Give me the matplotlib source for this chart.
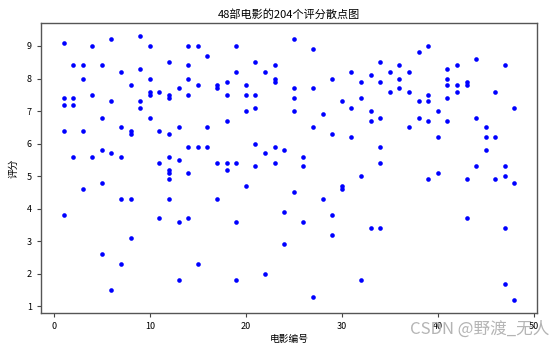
import numpy as np
import matplotlib.pyplot as plt

plt.rcParams['font.family'] = ['Noto Sans CJK SC', 'DejaVu Sans']
plt.rcParams['axes.unicode_minus'] = False

# ratings read per movie id (1..48)
ratings = {
    1: [9.1, 7.4, 7.2, 6.4, 3.8],
    2: [8.4, 7.4, 7.2, 5.6],
    3: [8.4, 8.0, 6.4, 4.6],
    4: [9.0, 7.5, 5.6],
    5: [8.4, 6.8, 5.8, 4.8, 2.6],
    6: [9.2, 7.3, 5.7, 1.5],
    7: [8.2, 6.5, 5.6, 4.3, 2.3],
    8: [7.8, 6.4, 6.3, 4.3, 3.1],
    9: [9.3, 8.3, 7.3, 7.1],
    10: [9.0, 8.0, 7.6, 7.5, 6.8],
    11: [7.6, 6.4, 5.4, 3.7],
    12: [8.5, 7.5, 7.4, 6.3, 5.6, 5.2, 5.1, 4.9, 4.3],
    13: [7.7, 6.5, 5.5, 3.6, 1.8],
    14: [9.0, 8.4, 8.0, 7.5, 5.9, 5.1, 3.7],
    15: [9.0, 7.8, 5.9, 2.3],
    16: [8.7, 6.5, 5.9],
    17: [7.8, 7.7, 5.4, 4.3],
    18: [7.9, 7.5, 6.7, 5.4, 5.2],
    19: [9.0, 8.2, 5.4, 3.6, 1.8],
    20: [7.8, 7.5, 7.0, 4.7],
    21: [8.5, 7.5, 7.1, 6.0, 5.3],
    22: [8.2, 5.7, 2.0],
    23: [8.4, 8.0, 7.9, 5.9, 5.4],
    24: [5.8, 3.9, 2.9],
    25: [9.2, 7.7, 7.4, 7.0, 4.5],
    26: [5.6, 5.3, 3.6],
    27: [8.9, 7.7, 6.5, 1.3],
    28: [6.9, 4.3],
    29: [8.0, 6.3, 3.8, 3.2],
    30: [7.3, 4.7, 4.6],
    31: [8.2, 7.1, 6.2],
    32: [7.9, 7.4, 5.0, 1.8],
    33: [8.1, 7.0, 6.7, 3.4],
    34: [8.5, 7.9, 6.8, 5.9, 5.4, 3.4],
    35: [8.2, 7.6],
    36: [8.4, 8.0, 7.7],
    37: [8.2, 7.6, 6.5],
    38: [8.8, 7.3, 6.8],
    39: [9.0, 7.5, 7.3, 6.7, 4.9],
    40: [7.0, 6.2, 5.1],
    41: [8.3, 8.0, 7.8, 7.4, 6.7],
    42: [8.4, 7.8, 7.6],
    43: [7.9, 7.8, 4.9, 3.7],
    44: [8.6, 6.8, 5.3],
    45: [6.5, 6.2, 5.8],
    46: [7.6, 6.2, 4.9],
    47: [8.4, 5.3, 5.0, 3.4, 1.7],
    48: [7.1, 4.8, 1.2],
}

movie_id = []
score = []
for k, v in ratings.items():
    movie_id += [k] * len(v)
    score += v

fig = plt.figure(figsize=(5.59, 3.45), dpi=100)
ax = fig.add_axes([0.0733, 0.0928, 0.8874, 0.8405])
ax.scatter(movie_id, score, s=11, c='blue', linewidths=0)

ax.set_title('48部电影的204个评分散点图', fontsize=8, pad=4)
ax.set_xlabel('电影编号', fontsize=7, labelpad=2)
ax.set_ylabel('评分', fontsize=7, labelpad=6)
ax.set_xticks([0, 10, 20, 30, 40, 50])
ax.set_yticks(range(1, 10))
ax.tick_params(labelsize=6.5, length=3, width=0.8, color='#444444')
for sp in ax.spines.values():
    sp.set_color('#555555')
    sp.set_linewidth(1.0)

# watermark as in the screenshot
fig.text(0.982, 0.022, 'CSDN @野渡_无人', ha='right', va='bottom',
         fontsize=12, color='#b4b4b4')

fig.savefig('out.png', dpi=100)
